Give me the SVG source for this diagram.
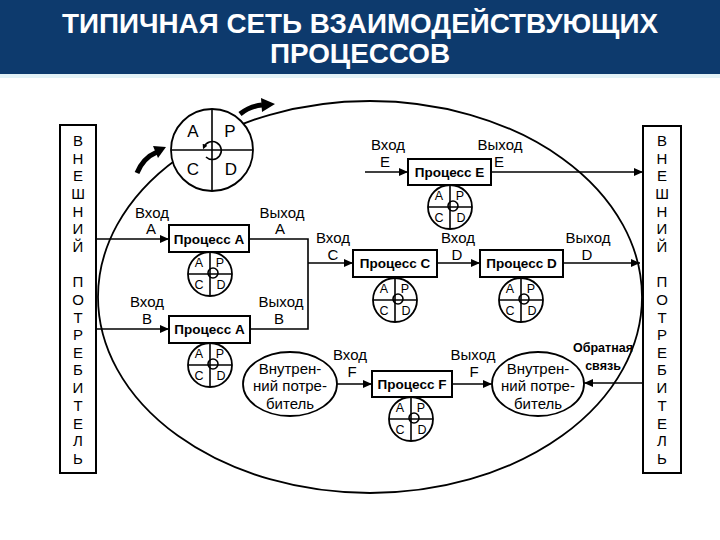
<svg xmlns="http://www.w3.org/2000/svg" width="720" height="540" viewBox="0 0 720 540">
<style>
.t{font-family:"Liberation Sans",Arial,sans-serif;fill:#000}
.lbl{font-size:15px;text-anchor:middle}
.pb{font-size:13.5px;font-weight:bold;text-anchor:middle}
.side{font-size:15px;text-anchor:middle}
.q{font-size:12.5px;text-anchor:middle}
.qb{font-size:17px;text-anchor:middle}
.ell{font-size:15px;text-anchor:middle}
.fb{font-size:12.5px;font-weight:bold;text-anchor:middle}
.title{font-family:"Liberation Sans",Arial,sans-serif;font-size:27px;font-weight:bold;fill:#fff;text-anchor:middle}
.ln{fill:none;stroke:#000;stroke-width:1.6}
.box{fill:#fff;stroke:#000;stroke-width:2}
.c{fill:#fff;stroke:#000;stroke-width:1.8}
.x{fill:none;stroke:#000;stroke-width:1.6}
</style>
<defs>
<marker id="ah" viewBox="0 0 10 10" refX="10" refY="5" markerWidth="9" markerHeight="8" markerUnits="userSpaceOnUse" orient="auto" preserveAspectRatio="none"><path d="M0,0 L10,5 L0,10 z" fill="#000"/></marker>
<marker id="sm" viewBox="0 0 10 10" refX="5" refY="5" markerWidth="5" markerHeight="5" markerUnits="userSpaceOnUse" orient="auto" preserveAspectRatio="none"><path d="M0,0 L10,5 L0,10 z" fill="#000"/></marker>
</defs>
<rect width="720" height="540" fill="#fff"/>
<g id="title">
<rect x="0" y="0" width="720" height="74" fill="#0d3a6d"/>
<rect x="0" y="74" width="720" height="4" fill="#e3f2f7"/>
<text class="title" x="360" y="33" textLength="596" lengthAdjust="spacingAndGlyphs">ТИПИЧНАЯ СЕТЬ ВЗАИМОДЕЙСТВУЮЩИХ</text>
<text class="title" x="360" y="63" textLength="180" lengthAdjust="spacingAndGlyphs">ПРОЦЕССОВ</text>
</g>
<g id="boundary">
<ellipse cx="370" cy="297" rx="272" ry="196" fill="none" stroke="#000" stroke-width="1.8"/>
</g>
<g id="connectors">
<line class="ln" x1="96" y1="239" x2="169" y2="239" marker-end="url(#ah)"/>
<line class="ln" x1="96" y1="329" x2="169" y2="329" marker-end="url(#ah)"/>
<path class="ln" d="M249,239 H308 V329 H250"/>
<line class="ln" x1="308" y1="263" x2="353" y2="263" marker-end="url(#ah)"/>
<line class="ln" x1="437" y1="263" x2="480" y2="263" marker-end="url(#ah)"/>
<line class="ln" x1="563" y1="263" x2="640" y2="263" marker-end="url(#ah)"/>
<line class="ln" x1="365" y1="172" x2="408" y2="172" marker-end="url(#ah)"/>
<line class="ln" x1="491" y1="172" x2="643" y2="172" marker-end="url(#ah)"/>
<line class="ln" x1="337" y1="384" x2="372" y2="384" marker-end="url(#ah)"/>
<line class="ln" x1="452" y1="384" x2="492" y2="384" marker-end="url(#ah)"/>
<line class="ln" x1="643" y1="383" x2="584" y2="383" marker-end="url(#ah)"/>
<path d="M137,173 Q143,158 157,152" fill="none" stroke="#000" stroke-width="5"/>
<path d="M153,146 L166,147 L158,158 z" fill="#000"/>
<path d="M240,114 Q250,106 262,105" fill="none" stroke="#000" stroke-width="5"/>
<path d="M261,98 L275,104 L262,112 z" fill="#000"/>
</g>
<g id="cycle-main">
<circle class="c" cx="212" cy="150" r="41"/>
<line class="x" x1="212" y1="109" x2="212" y2="191"/>
<line class="x" x1="171" y1="150" x2="253" y2="150"/>
<path class="x" d="M206,157 A9,9 0 1 0 204,147" marker-end="url(#sm)"/>
<text class="t qb" x="193" y="137">A</text>
<text class="t qb" x="230" y="137">P</text>
<text class="t qb" x="193" y="175">C</text>
<text class="t qb" x="231" y="175">D</text>
</g>
<g id="ext-left">
<rect class="box" x="60" y="125" width="36" height="348"/>
<text class="t side" x="78" y="146">В</text>
<text class="t side" x="78" y="164">Н</text>
<text class="t side" x="78" y="181">Е</text>
<text class="t side" x="78" y="199">Ш</text>
<text class="t side" x="78" y="217">Н</text>
<text class="t side" x="78" y="234">И</text>
<text class="t side" x="78" y="252">Й</text>
<text class="t side" x="78" y="287">П</text>
<text class="t side" x="78" y="305">О</text>
<text class="t side" x="78" y="323">Т</text>
<text class="t side" x="78" y="340">Р</text>
<text class="t side" x="78" y="358">Е</text>
<text class="t side" x="78" y="375">Б</text>
<text class="t side" x="78" y="393">И</text>
<text class="t side" x="78" y="411">Т</text>
<text class="t side" x="78" y="429">Е</text>
<text class="t side" x="78" y="446">Л</text>
<text class="t side" x="78" y="464">Ь</text>
</g>
<g id="ext-right">
<rect class="box" x="643" y="126" width="38" height="347"/>
<text class="t side" x="662" y="146">В</text>
<text class="t side" x="662" y="164">Н</text>
<text class="t side" x="662" y="181">Е</text>
<text class="t side" x="662" y="199">Ш</text>
<text class="t side" x="662" y="217">Н</text>
<text class="t side" x="662" y="234">И</text>
<text class="t side" x="662" y="252">Й</text>
<text class="t side" x="662" y="287">П</text>
<text class="t side" x="662" y="305">О</text>
<text class="t side" x="662" y="323">Т</text>
<text class="t side" x="662" y="340">Р</text>
<text class="t side" x="662" y="358">Е</text>
<text class="t side" x="662" y="375">Б</text>
<text class="t side" x="662" y="393">И</text>
<text class="t side" x="662" y="411">Т</text>
<text class="t side" x="662" y="429">Е</text>
<text class="t side" x="662" y="446">Л</text>
<text class="t side" x="662" y="464">Ь</text>
</g>
<g id="proc-a1">
<rect class="box" x="169" y="225" width="80" height="27"/>
<text class="t pb" x="209" y="244">Процесс A</text>
<circle class="c" cx="210" cy="274" r="22"/>
<line class="x" x1="210" y1="252" x2="210" y2="296"/>
<line class="x" x1="188" y1="274" x2="232" y2="274"/>
<circle class="x" cx="213" cy="273" r="5"/>
<text class="t q" x="199" y="267">A</text>
<text class="t q" x="220" y="267">P</text>
<text class="t q" x="199" y="289">C</text>
<text class="t q" x="221" y="289">D</text>
<text class="t lbl" x="152" y="218">Вход</text>
<text class="t lbl" x="151" y="234">A</text>
<text class="t lbl" x="282" y="218">Выход</text>
<text class="t lbl" x="280" y="234">A</text>
</g>
<g id="proc-a2">
<rect class="box" x="169" y="316" width="81" height="27"/>
<text class="t pb" x="209.5" y="334">Процесс A</text>
<circle class="c" cx="210" cy="365" r="22"/>
<line class="x" x1="210" y1="343" x2="210" y2="387"/>
<line class="x" x1="188" y1="365" x2="232" y2="365"/>
<circle class="x" cx="213" cy="364" r="5"/>
<text class="t q" x="199" y="358">A</text>
<text class="t q" x="220" y="358">P</text>
<text class="t q" x="199" y="380">C</text>
<text class="t q" x="221" y="380">D</text>
<text class="t lbl" x="147" y="307">Вход</text>
<text class="t lbl" x="147" y="324">B</text>
<text class="t lbl" x="281" y="307">Выход</text>
<text class="t lbl" x="279" y="324">B</text>
</g>
<g id="proc-c">
<rect class="box" x="353" y="250" width="84" height="27"/>
<text class="t pb" x="395" y="268">Процесс C</text>
<circle class="c" cx="395" cy="300" r="22"/>
<line class="x" x1="395" y1="278" x2="395" y2="322"/>
<line class="x" x1="373" y1="300" x2="417" y2="300"/>
<circle class="x" cx="398" cy="299" r="5"/>
<text class="t q" x="384" y="293">A</text>
<text class="t q" x="405" y="293">P</text>
<text class="t q" x="384" y="315">C</text>
<text class="t q" x="406" y="315">D</text>
<text class="t lbl" x="333" y="243">Вход</text>
<text class="t lbl" x="333" y="260">C</text>
</g>
<g id="proc-d">
<rect class="box" x="480" y="250" width="83" height="27"/>
<text class="t pb" x="521.5" y="268">Процесс D</text>
<circle class="c" cx="521" cy="300" r="22"/>
<line class="x" x1="521" y1="278" x2="521" y2="322"/>
<line class="x" x1="499" y1="300" x2="543" y2="300"/>
<circle class="x" cx="524" cy="299" r="5"/>
<text class="t q" x="510" y="293">A</text>
<text class="t q" x="531" y="293">P</text>
<text class="t q" x="510" y="315">C</text>
<text class="t q" x="532" y="315">D</text>
<text class="t lbl" x="458" y="243">Вход</text>
<text class="t lbl" x="457" y="260">D</text>
<text class="t lbl" x="588" y="243">Выход</text>
<text class="t lbl" x="587" y="260">D</text>
</g>
<g id="proc-e">
<rect class="box" x="408" y="159" width="83" height="26"/>
<text class="t pb" x="449.5" y="177">Процесс E</text>
<circle class="c" cx="450" cy="207" r="22"/>
<line class="x" x1="450" y1="185" x2="450" y2="229"/>
<line class="x" x1="428" y1="207" x2="472" y2="207"/>
<circle class="x" cx="453" cy="206" r="5"/>
<text class="t q" x="439" y="200">A</text>
<text class="t q" x="460" y="200">P</text>
<text class="t q" x="439" y="222">C</text>
<text class="t q" x="461" y="222">D</text>
<text class="t lbl" x="388" y="150">Вход</text>
<text class="t lbl" x="385" y="167">E</text>
<text class="t lbl" x="500" y="150">Выход</text>
<text class="t lbl" x="499" y="167">E</text>
</g>
<g id="proc-f">
<rect class="box" x="372" y="371" width="80" height="26"/>
<text class="t pb" x="412" y="389">Процесс F</text>
<circle class="c" cx="411" cy="419" r="22"/>
<line class="x" x1="411" y1="397" x2="411" y2="441"/>
<line class="x" x1="389" y1="419" x2="433" y2="419"/>
<circle class="x" cx="414" cy="418" r="5"/>
<text class="t q" x="400" y="412">A</text>
<text class="t q" x="421" y="412">P</text>
<text class="t q" x="400" y="434">C</text>
<text class="t q" x="422" y="434">D</text>
<text class="t lbl" x="350" y="360">Вход</text>
<text class="t lbl" x="352" y="377">F</text>
<text class="t lbl" x="473" y="360">Выход</text>
<text class="t lbl" x="474" y="377">F</text>
</g>
<g id="internal-left">
<ellipse class="c" cx="290" cy="384" rx="47" ry="32"/>
<text class="t ell" x="290" y="374">Внутрен-</text>
<text class="t ell" x="290" y="391">ний потре-</text>
<text class="t ell" x="290" y="409">битель</text>
</g>
<g id="internal-right">
<ellipse class="c" cx="538" cy="384" rx="46" ry="32"/>
<text class="t ell" x="538" y="374">Внутрен-</text>
<text class="t ell" x="538" y="391">ний потре-</text>
<text class="t ell" x="538" y="409">битель</text>
<text class="t fb" x="603" y="352">Обратная</text>
<text class="t fb" x="603" y="370">связь</text>
</g>
</svg>
